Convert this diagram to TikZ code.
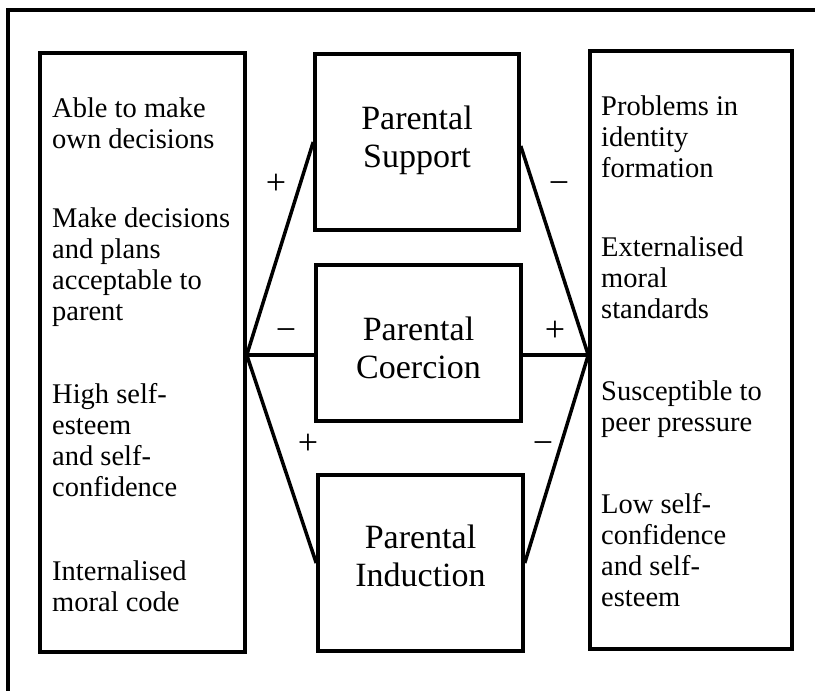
\documentclass[tikz,border=0pt]{standalone}
\usepackage{fontspec}
\setmainfont{Liberation Serif}
\begin{document}
\begin{tikzpicture}[x=1pt,y=-1pt,
  frame/.style={line width=3.5pt},
  box/.style={draw, line width=3.5pt, inner sep=0pt},
  conn/.style={line width=3.5pt},
  sidetext/.style={anchor=base west, inner sep=0pt,
    font=\fontsize{28.5}{31}\selectfont},
  midtext/.style={anchor=base, inner sep=0pt,
    font=\fontsize{34}{38}\selectfont},
  sign/.style={anchor=base, inner sep=0pt,
    font=\fontsize{36}{36}\selectfont}]
\useasboundingbox (0,0) rectangle (815,691);

% outer frame (top and left edges)
\draw[frame] (8,691) -- (8,10) -- (815,10);

% outcome boxes
\node[box, minimum width=205pt, minimum height=599pt] (lbox) at (142.5,352.5) {};
\node[box, minimum width=202pt, minimum height=598pt] (rbox) at (691,350) {};

% parenting boxes
\node[box, minimum width=204pt, minimum height=176pt] (support)   at (417,142)   {};
\node[box, minimum width=205pt, minimum height=156pt] (coercion)  at (418.5,343) {};
\node[box, minimum width=205pt, minimum height=176pt] (induction) at (420.5,563) {};

\node[midtext] (tsupport)   at (417,129)   {\parbox[t]{200pt}{\centering Parental\\Support}};
\node[midtext] (tcoercion)  at (418.5,340) {\parbox[t]{200pt}{\centering Parental\\Coercion}};
\node[midtext] (tinduction) at (420.5,548) {\parbox[t]{200pt}{\centering Parental\\Induction}};

% left box texts
\node[sidetext] (l1) at (52,117) {\parbox[t]{190pt}{\raggedright Able to make\\own decisions}};
\node[sidetext] (l2) at (52,227) {\parbox[t]{190pt}{\raggedright Make decisions\\and plans\\acceptable to\\parent}};
\node[sidetext] (l3) at (52,403) {\parbox[t]{190pt}{\raggedright High self-\\esteem\\and self-\\confidence}};
\node[sidetext] (l4) at (52,580) {\parbox[t]{190pt}{\raggedright Internalised\\moral code}};

% right box texts
\node[sidetext] (r1) at (601,115) {\parbox[t]{185pt}{\raggedright Problems in\\identity\\formation}};
\node[sidetext] (r2) at (601,256) {\parbox[t]{185pt}{\raggedright Externalised\\moral\\standards}};
\node[sidetext] (r3) at (601,400) {\parbox[t]{185pt}{\raggedright Susceptible to\\peer pressure}};
\node[sidetext] (r4) at (601,513) {\parbox[t]{185pt}{\raggedright Low self-\\confidence\\and self-\\esteem}};

% junction points on the outcome boxes
\coordinate (jl) at (lbox.east |- 0,355);
\coordinate (jr) at (rbox.west |- 0,355);

% connectors
\draw[conn] (jl) -- (support.west);
\draw[conn] (jl) -- (jl -| coercion.west);
\draw[conn] (jl) -- (induction.west);
\draw[conn] ([yshift=-4pt]support.east) -- (jr);
\draw[conn] (jr -| coercion.east) -- (jr);
\draw[conn] (induction.east) -- (jr);

% signs
\node[sign] (s1) at (276,194) {+};
\node[sign] (s2) at (559,194) {−};
\node[sign] (s3) at (286,341) {−};
\node[sign] (s4) at (555,341) {+};
\node[sign] (s5) at (308,454) {+};
\node[sign] (s6) at (543,454) {−};
\end{tikzpicture}
\end{document}
